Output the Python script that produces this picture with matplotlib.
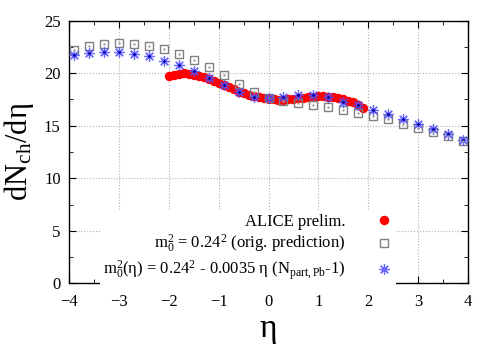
import matplotlib
matplotlib.use('Agg')

import matplotlib.pyplot as plt
from matplotlib.ticker import MultipleLocator

plt.rcParams['font.family'] = ['Liberation Serif', 'DejaVu Serif']
plt.rcParams['mathtext.fontset'] = 'custom'
plt.rcParams['mathtext.rm'] = 'Liberation Serif'
plt.rcParams['mathtext.it'] = 'Liberation Serif:italic'

#*********** model curves (eta steps of 0.3) ***********
eta_model = [-3.9, -3.6, -3.3, -3.0, -2.7, -2.4, -2.1, -1.8, -1.5, -1.2, -0.9, -0.6, -0.3, 0.0,
             0.3, 0.6, 0.9, 1.2, 1.5, 1.8, 2.1, 2.4, 2.7, 3.0, 3.3, 3.6, 3.9]
orig_pred = [22.2, 22.6, 22.8, 22.9, 22.8, 22.6, 22.3, 21.8, 21.3, 20.6, 19.8, 19.0, 18.2, 17.6,
             17.4, 17.2, 17.0, 16.8, 16.5, 16.2, 15.9, 15.6, 15.2, 14.8, 14.4, 14.0, 13.5]
eta_pred  = [21.7, 21.9, 22.0, 22.0, 21.8, 21.6, 21.2, 20.8, 20.2, 19.5, 18.9, 18.2, 17.7, 17.6,
             17.75, 17.9, 17.95, 17.7, 17.3, 17.0, 16.5, 16.1, 15.6, 15.2, 14.7, 14.2, 13.6]

#*********** ALICE preliminary ***********
eta_alice = [-2.0, -1.9, -1.8, -1.7, -1.6, -1.5, -1.4, -1.3, -1.2, -1.1, -1.0, -0.9, -0.8, -0.7,
             -0.6, -0.5, -0.4, -0.3, -0.2, -0.1, 0.0, 0.1, 0.2, 0.3, 0.4, 0.5, 0.6, 0.7, 0.8,
             0.9, 1.0, 1.1, 1.2, 1.3, 1.4, 1.5, 1.6, 1.7, 1.8, 1.9]
dndeta_alice = [19.75, 19.85, 19.95, 20.0, 19.95, 19.85, 19.75, 19.6, 19.45, 19.3, 19.1, 18.9,
                18.7, 18.45, 18.25, 18.1, 17.95, 17.85, 17.7, 17.6, 17.55, 17.5, 17.45, 17.45,
                17.5, 17.55, 17.6, 17.65, 17.7, 17.75, 17.8, 17.8, 17.75, 17.7, 17.6, 17.5,
                17.4, 17.25, 17.0, 16.7]

fig = plt.figure(figsize=(4.98, 3.49), dpi=100)
ax = fig.add_axes([0.1386, 0.1883, 0.8012, 0.7524])

ax.plot(eta_alice, dndeta_alice, 'o', color='red', markersize=6.8, markeredgewidth=0,
        label='ALICE prelim.', zorder=3)
ax.plot(eta_model, orig_pred, 's', markerfacecolor='none', markeredgecolor='#808080',
        markersize=5.5, markeredgewidth=1.0,
        label=r'm$_0^2$ = 0.24$^2$ (orig. prediction)', zorder=4)
ax.plot(eta_model, eta_pred, marker=(8, 2, 0), linestyle='none', color='#5050ff',
        markersize=7.5, markeredgewidth=0.9, alpha=0.85,
        label=r'm$_0^2$(η) = 0.24$^2$ - 0.0035 η (N$_{\mathrm{part,Pb}}$-1)', zorder=5)
ax.plot(eta_model, eta_pred, '.', color='#0000a0', markersize=2, zorder=6)
ax.plot(eta_model, orig_pred, '.', color='#a0a0a0', markersize=1.5, zorder=6)

ax.set_xlim(-4, 4)
ax.set_ylim(0, 25)
ax.xaxis.set_major_locator(MultipleLocator(1))
ax.xaxis.set_minor_locator(MultipleLocator(0.5))
ax.yaxis.set_major_locator(MultipleLocator(5))
ax.yaxis.set_minor_locator(MultipleLocator(2.5))
ax.tick_params(which='both', direction='in', top=True, right=True, labelsize=12)
ax.tick_params(which='major', length=5)
ax.tick_params(which='minor', length=3)
ax.tick_params(axis='x', pad=8)
ax.tick_params(axis='y', pad=6)
ax.grid(True, which='major', color='#b0b0b0', linestyle=':', linewidth=0.8)
ax.set_axisbelow(True)
for sp in ax.spines.values():
    sp.set_linewidth(1.0)

ax.set_xlabel('η', fontsize=24, labelpad=2)
ax.set_ylabel(r'dN$_{\mathrm{ch}}$/dη', fontsize=22, labelpad=6)

leg = ax.legend(loc='lower right', bbox_to_anchor=(0.84, -0.04), markerfirst=False,
                frameon=True, fancybox=False, edgecolor='none', framealpha=1.0,
                fontsize=12, handlelength=1.0, handletextpad=1.8, labelspacing=0.2,
                borderpad=0.2)
leg.set_zorder(10)

plt.savefig('out.png', dpi=100)
